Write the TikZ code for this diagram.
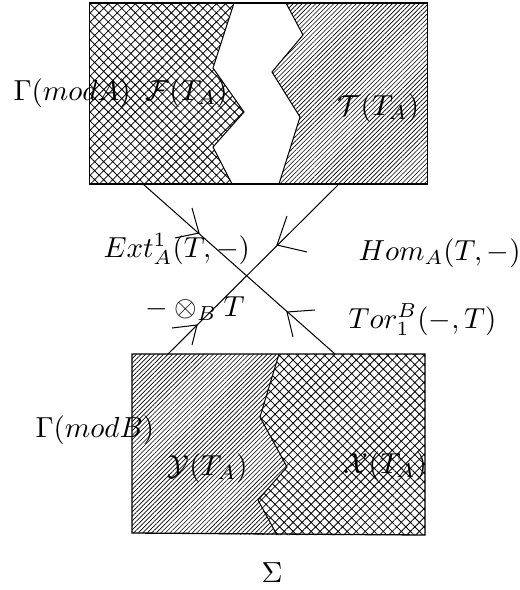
\documentclass[tikz,border=0pt]{standalone}
\usetikzlibrary{patterns.meta}
\begin{document}
\begin{tikzpicture}[x=0.345pt,y=-0.345pt,
  frame/.style={line width=0.45pt},
  bound/.style={line width=0.35pt},
  cross/.style={pattern={Hatch[angle=45,distance=2.2pt,line width=0.28pt]}},
  diag/.style={pattern={Lines[angle=45,distance=1.1pt,line width=0.22pt]}},
  conn/.style={line width=0.35pt},
  barb/.style={line width=0.35pt},
  lab/.style={inner sep=0pt,anchor=base west}]
\useasboundingbox (0,0) rectangle (519,590);
% ---------- top rectangle (mod A) ----------
\path[cross] (89.5,3) -- (234,3) -- (213,68) -- (244,112) -- (213,147) -- (232,184) -- (89.5,184) -- cycle;
\path[diag] (286,3) -- (427.7,3) -- (427.7,184) -- (279,184) -- (300,117) -- (272,72) -- (303,35) -- cycle;
\draw[bound] (234,3) -- (213,68) -- (244,112) -- (213,147) -- (232,184);
\draw[bound] (286,3) -- (303,35) -- (272,72) -- (300,117) -- (279,184);
\draw[frame] (89.5,3) rectangle (427.7,184);
% ---------- bottom rectangle (mod B) ----------
\path[diag] (132,354) -- (279,354) -- (260,417) -- (287,467) -- (258,500) -- (277,535) -- (132,533) -- cycle;
\path[cross] (279,354) -- (425,354) -- (425,535) -- (277,535) -- (258,500) -- (287,467) -- (260,417) -- cycle;
\draw[bound] (279,354) -- (260,417) -- (287,467) -- (258,500) -- (277,535);
\draw[frame] (132,354) -- (425,354) -- (425,535) -- (132,533) -- cycle;
% ---------- connectors ----------
\coordinate (t1) at (143,184);
\coordinate (t2) at (339,184);
\coordinate (b1) at (335,354);
\coordinate (b2) at (168,354);
\draw[conn] (t1) -- (b1);
\draw[conn] (t2) -- (b2);
% arrowheads
\draw[barb] (192,208) -- (199,233) -- (175,238);
\draw[barb] (287,216) -- (277,245) -- (307,252);
\draw[barb] (315,310) -- (287,312) -- (293,337);
\draw[barb] (172,328) -- (197,325) -- (192,345);
% ---------- labels ----------
\node[lab] (gA) at (13,100) {$\Gamma(modA)$};
\node[lab] (fA) at (145,100) {$\mathcal{F}(T_A)$};
\node[lab] (tA) at (337,115) {$\mathcal{T}(T_A)$};
\node[lab] (ext) at (103,257) {$Ext^1_A(T,-)$};
\node[lab] (hom) at (358,260) {$Hom_A(T,-)$};
\node[lab] (ten) at (145,316) {$-\otimes_B T$};
\node[lab] (tor) at (348,328) {$Tor^B_1(-,T)$};
\node[lab] (gB) at (35,437) {$\Gamma(modB)$};
\node[lab] (yA) at (167,475) {$\mathcal{Y}(T_A)$};
\node[lab] (xA) at (343,473) {$\mathcal{X}(T_A)$};
\node[inner sep=0pt] (sig) at (272,573) {$\Sigma$};
\end{tikzpicture}
\end{document}
